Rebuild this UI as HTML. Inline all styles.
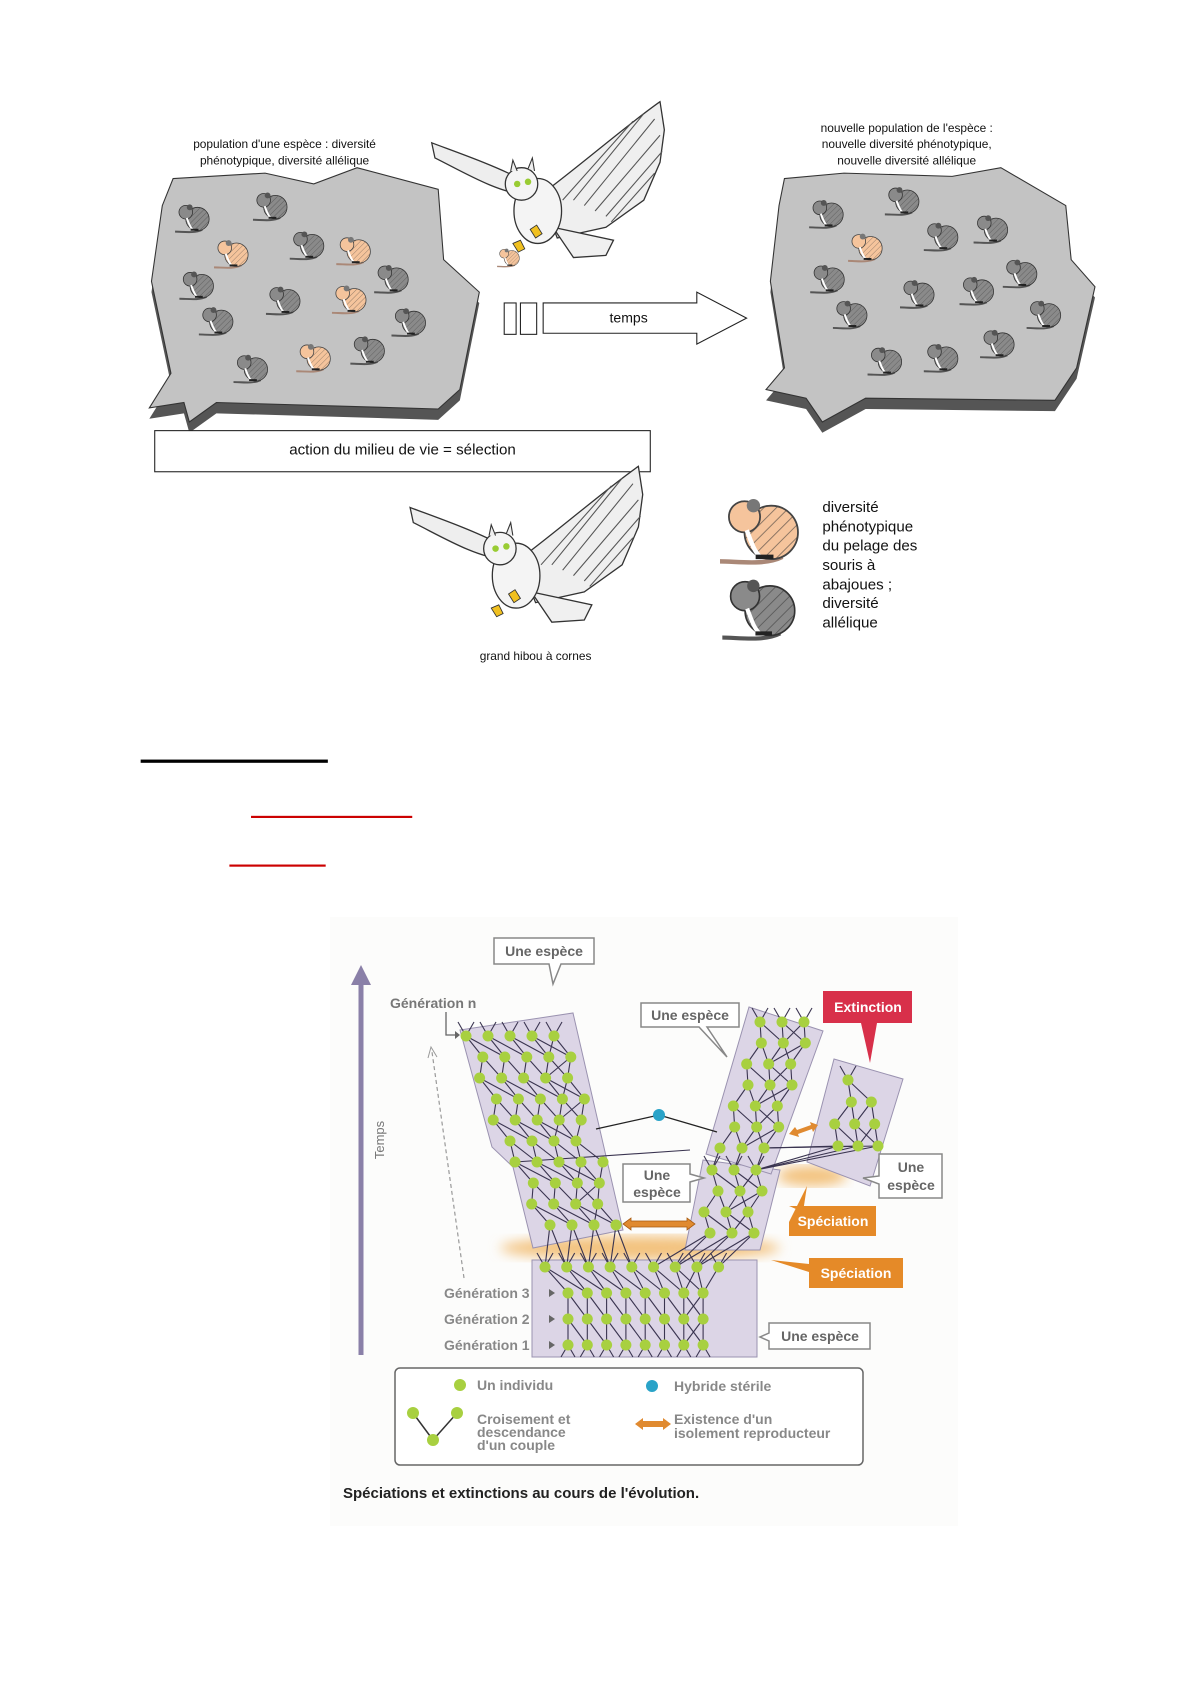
<!DOCTYPE html>
<html><head><meta charset="utf-8"><style>
html,body{margin:0;padding:0;background:#fff;}
svg{display:block;}
text{font-family:"Liberation Sans",sans-serif;}
</style></head><body>
<svg id="s" width="1190" height="1684" viewBox="0 0 1190 1684" xmlns="http://www.w3.org/2000/svg">
<defs>
<pattern id="h" width="4" height="4" patternUnits="userSpaceOnUse" patternTransform="rotate(45)">
<rect width="4" height="4" fill="none"/><line x1="0" y1="0" x2="0" y2="4" stroke="#333" stroke-width="0.8" opacity="0.6"/></pattern>
<symbol id="mg" viewBox="0 0 40 34" overflow="visible">
<path d="M30,29 C22,33 10,31 2,31" stroke="#555" stroke-width="2" fill="none"/>
<ellipse cx="25" cy="18" rx="12" ry="12" fill="#8a8a8a" stroke="#333" stroke-width="0.8"/>
<ellipse cx="25" cy="18" rx="12" ry="12" fill="url(#h)"/>
<circle cx="13" cy="11" r="7" fill="#8a8a8a" stroke="#333" stroke-width="0.8"/>
<circle cx="17" cy="6" r="3" fill="#555"/>
<path d="M14,17 C16,22 17,26 20,29" stroke="#fff" stroke-width="2" fill="none"/>
<path d="M18,29 L26,29" stroke="#222" stroke-width="2"/>
</symbol>
<symbol id="mo" viewBox="0 0 40 34" overflow="visible">
<path d="M30,29 C22,33 10,31 2,31" stroke="#a87" stroke-width="2" fill="none"/>
<ellipse cx="25" cy="18" rx="12" ry="12" fill="#f5c49c" stroke="#444" stroke-width="0.8"/>
<ellipse cx="25" cy="18" rx="12" ry="12" fill="url(#h)"/>
<circle cx="13" cy="11" r="7" fill="#f5c49c" stroke="#444" stroke-width="0.8"/>
<circle cx="17" cy="6" r="3" fill="#777"/>
<path d="M14,17 C16,22 17,26 20,29" stroke="#fff" stroke-width="2" fill="none"/>
<path d="M18,29 L26,29" stroke="#222" stroke-width="2"/>
</symbol>
<g id="owl">
<path d="M399,132 C420,140 455,152 480,165 L486,180 C460,178 430,160 402,146 Z" fill="#eee" stroke="#333" stroke-width="1.2"/>
<path d="M500,180 C540,150 580,115 610,94 L614,120 L610,150 L595,185 L560,210 L515,220 Z" fill="#efefef" stroke="#333" stroke-width="1.2"/>
<g stroke="#555" stroke-width="1" fill="none">
<path d="M540,190 L605,110"/><path d="M550,195 L610,125"/><path d="M560,200 L612,140"/><path d="M565,205 L605,160"/><path d="M530,185 L595,105"/><path d="M520,185 L585,112"/></g>
<path d="M511,210 L567,222 L560,236 L530,238 Z" fill="#f0f0f0" stroke="#333" stroke-width="1.2"/>
<ellipse cx="497" cy="195" rx="22" ry="30" fill="#f4f4f4" stroke="#333" stroke-width="1.2"/>
<circle cx="482" cy="170" r="15" fill="#f4f4f4" stroke="#333" stroke-width="1.2"/>
<path d="M472,158 L474,148 L478,158 M488,156 L492,146 L494,158" stroke="#333" fill="#eee"/>
<circle cx="478" cy="170" r="3" fill="#9c3"/><circle cx="488" cy="168" r="3" fill="#9c3"/>
<path d="M490,212 l6,-4 l5,8 l-6,4 Z M474,225 l7,-3 l4,8 l-6,3 Z" fill="#f0c020" stroke="#333" stroke-width="0.8"/>
</g>
</defs>

<!-- TOP PART in view coords -->
<g transform="scale(1.082)">
<polygon transform="translate(0,10)" fill="#555" points="160,165 245,160 290,170 330,155 405,175 410,240 443,270 425,360 405,378 200,372 175,390 170,372 138,377 158,345 140,260 150,190"/>
<polygon fill="#c3c3c3" stroke="#333" stroke-width="1" points="160,165 245,160 290,170 330,155 405,175 410,240 443,270 425,360 405,378 200,372 175,390 170,372 138,377 158,345 140,260 150,190"/>
<polygon transform="translate(0,10)" fill="#555" points="725,165 780,160 880,163 925,155 985,190 990,240 1012,265 995,340 975,370 800,368 760,390 745,368 708,360 725,340 712,260 720,190"/>
<polygon fill="#c3c3c3" stroke="#333" stroke-width="1" points="725,165 780,160 880,163 925,155 985,190 990,240 1012,265 995,340 975,370 800,368 760,390 745,368 708,360 725,340 712,260 720,190"/>
<g>
<use href="#mg" x="160" y="186" width="36" height="31"/><use href="#mg" x="232" y="175" width="36" height="31"/>
<use href="#mo" x="196" y="219" width="36" height="31"/><use href="#mg" x="266" y="211" width="36" height="31"/>
<use href="#mo" x="309" y="216" width="36" height="31"/><use href="#mg" x="164" y="248" width="36" height="31"/>
<use href="#mg" x="344" y="242" width="36" height="31"/><use href="#mg" x="244" y="262" width="36" height="31"/>
<use href="#mo" x="305" y="261" width="36" height="31"/><use href="#mg" x="182" y="281" width="36" height="31"/>
<use href="#mg" x="360" y="282" width="36" height="31"/><use href="#mg" x="214" y="325" width="36" height="31"/>
<use href="#mo" x="272" y="315" width="36" height="31"/><use href="#mg" x="322" y="308" width="36" height="31"/>
<use href="#mg" x="746" y="182" width="36" height="31"/><use href="#mg" x="816" y="170" width="36" height="31"/>
<use href="#mg" x="852" y="203" width="36" height="31"/><use href="#mg" x="898" y="196" width="36" height="31"/>
<use href="#mo" x="782" y="213" width="36" height="31"/><use href="#mg" x="747" y="242" width="36" height="31"/>
<use href="#mg" x="925" y="237" width="36" height="31"/><use href="#mg" x="830" y="256" width="36" height="31"/>
<use href="#mg" x="885" y="253" width="36" height="31"/><use href="#mg" x="768" y="275" width="36" height="31"/>
<use href="#mg" x="947" y="275" width="36" height="31"/><use href="#mg" x="800" y="318" width="36" height="31"/>
<use href="#mg" x="852" y="315" width="36" height="31"/><use href="#mg" x="904" y="302" width="36" height="31"/>
</g>
<text x="263" y="137" font-size="11" text-anchor="middle" fill="#111">population d'une espèce : diversité</text>
<text x="263" y="152" font-size="11" text-anchor="middle" fill="#111">phénotypique, diversité allélique</text>
<text x="838" y="122" font-size="11" text-anchor="middle" fill="#111">nouvelle population de l'espèce :</text>
<text x="838" y="137" font-size="11" text-anchor="middle" fill="#111">nouvelle diversité phénotypique,</text>
<text x="838" y="152" font-size="11" text-anchor="middle" fill="#111">nouvelle diversité allélique</text>
<use href="#owl"/>
<use href="#mo" x="458" y="228" width="24" height="20"/>
<rect x="466" y="280" width="11" height="29" fill="#fff" stroke="#222"/>
<rect x="481" y="280" width="15" height="29" fill="#fff" stroke="#222"/>
<polygon points="502,280 644,280 644,270 690,294 644,318 644,308 502,308" fill="#fff" stroke="#222"/>
<text x="581" y="298" font-size="13" text-anchor="middle" fill="#111">temps</text>
<rect x="143" y="398" width="458" height="38" fill="#fff" stroke="#222"/>
<text x="372" y="420" font-size="14" text-anchor="middle" fill="#111">action du milieu de vie = sélection</text>
<g transform="translate(-20,337)"><use href="#owl"/></g>
<text x="495" y="610" font-size="11" text-anchor="middle" fill="#111">grand hibou à cornes</text>
<use href="#mo" x="660" y="455" width="85" height="70"/>
<use href="#mg" x="662" y="530" width="80" height="65"/>
<g font-size="14" fill="#111">
<text x="760" y="473">diversité</text><text x="760" y="491">phénotypique</text><text x="760" y="509">du pelage des</text>
<text x="760" y="527">souris à</text><text x="760" y="545">abajoues ;</text><text x="760" y="562">diversité</text><text x="760" y="580">allélique</text></g>
<rect x="130" y="702" width="173" height="3" fill="#000"/>
<rect x="232" y="754" width="149" height="2" fill="#c00"/>
<rect x="212" y="799" width="89" height="2" fill="#c00"/>
</g>

<!-- DIAGRAM in real coords -->
<rect x="330" y="917" width="628" height="609" fill="#fcfcfb"/>
<defs><filter id="bl"><feGaussianBlur stdDeviation="6"/></filter>
<marker id="ah" viewBox="0 0 10 10" refX="5" refY="5" markerWidth="4" markerHeight="4" orient="auto"><path d="M0,0 L10,5 L0,10 Z" fill="#8a80a8"/></marker></defs>
<line x1="361" y1="1355" x2="361" y2="975" stroke="#8a80a8" stroke-width="5" marker-end="url(#ah)"/>
<text transform="translate(384,1140) rotate(-90)" font-size="13" fill="#777" text-anchor="middle">Temps</text>
<line x1="464" y1="1278" x2="432" y2="1052" stroke="#999" stroke-width="1.2" stroke-dasharray="4,3"/>
<path d="M428,1058 L431,1047 L437,1057" fill="none" stroke="#999"/>
<ellipse cx="640" cy="1248" rx="140" ry="12" fill="#f3c27e" filter="url(#bl)"/>
<ellipse cx="812" cy="1176" rx="35" ry="10" fill="#f3c27e" filter="url(#bl)"/>
<g fill="#dcd5e6" stroke="#9a92b0" stroke-width="1">
<polygon points="532,1260 757,1260 757,1357 532,1357"/>
<polygon points="460,1030 573,1013 623,1230 533,1248 513,1167 492,1147"/>
<polygon points="703,1160 780,1170 760,1250 685,1250"/>
<polygon points="749,1007 823,1031 771,1174 706,1154"/>
<polygon points="834,1059 903,1079 870,1186 807,1162"/>
</g>
<g id="lat"></g>
<line x1="596" y1="1129" x2="659" y2="1115" stroke="#222" stroke-width="1.2"/>
<line x1="659" y1="1115" x2="717" y2="1132" stroke="#222" stroke-width="1.2"/>
<circle cx="659" cy="1115" r="6" fill="#2aa3c8"/>
<path d="M623,1224 l8,-6 v3 h56 v-3 l8,6 l-8,6 v-3 h-56 v3 Z" fill="#e08a30" stroke="#a85a10" stroke-width="0.8"/>
<path d="M789,1134 l6,-7 l2,3 l14,-5 l-1,-3 l8,3 l-5,7 l-1,-3 l-14,5 l1,3 Z" fill="#e08a30"/>
<g font-size="14" font-weight="bold" fill="#777">
<path d="M494,938 h100 v26 h-33 l-8,20 l-4,-20 h-55 Z" fill="#fff" stroke="#888" stroke-width="1.5"/>
<text x="544" y="956" text-anchor="middle" fill="#666">Une espèce</text>
<path d="M641,1003 h98 v24 h-32 l20,30 l-28,-30 h-58 Z" fill="#fff" stroke="#888" stroke-width="1.5"/>
<text x="690" y="1020" text-anchor="middle" fill="#666">Une espèce</text>
<path d="M623,1164 h67 v10 l14,4 l-14,4 v20 h-67 Z" fill="#fff" stroke="#888" stroke-width="1.5"/>
<text x="657" y="1180" text-anchor="middle" fill="#666">Une</text><text x="657" y="1197" text-anchor="middle" fill="#666">espèce</text>
<path d="M879,1154 h63 v44 h-63 v-14 l-16,-6 l16,-2 Z" fill="#fff" stroke="#888" stroke-width="1.5"/>
<text x="911" y="1172" text-anchor="middle" fill="#666">Une</text><text x="911" y="1190" text-anchor="middle" fill="#666">espèce</text>
<path d="M769,1323 h101 v26 h-101 v-8 l-9,-4 l9,-4 Z" fill="#fff" stroke="#888" stroke-width="1.5"/>
<text x="820" y="1341" text-anchor="middle" fill="#666">Une espèce</text>
<path d="M823,991 h89 v32 h-35 l-7,40 l-9,-40 h-38 Z" fill="#d8304a"/>
<text x="868" y="1012" text-anchor="middle" fill="#fff">Extinction</text>
<path d="M789,1206 h87 v30 h-87 v-14 l18,-36 l-4,26 Z" fill="#e58a28"/>
<text x="833" y="1226" text-anchor="middle" fill="#fff">Spéciation</text>
<path d="M809,1258 h94 v30 h-94 v-16 l-38,-12 l38,4 Z" fill="#e58a28"/>
<text x="856" y="1278" text-anchor="middle" fill="#fff">Spéciation</text>
<text x="390" y="1008" fill="#777">Génération n</text>
<text x="444" y="1298" fill="#888">Génération 3</text>
<text x="444" y="1324" fill="#888">Génération 2</text>
<text x="444" y="1350" fill="#888">Génération 1</text>
</g>
<path d="M446,1012 V1035 H456" fill="none" stroke="#666" stroke-width="1.3"/><path d="M455,1031 l5,4 l-5,4 Z" fill="#666"/>
<path d="M549,1289 l6,4 l-6,4 Z M549,1315 l6,4 l-6,4 Z M549,1341 l6,4 l-6,4 Z" fill="#666"/>
<rect x="395" y="1368" width="468" height="97" rx="5" fill="#fff" stroke="#666" stroke-width="1.5"/>
<circle cx="460" cy="1385" r="6" fill="#a8d040"/>
<line x1="413" y1="1413" x2="433" y2="1440" stroke="#333" stroke-width="1.5"/><line x1="433" y1="1440" x2="457" y2="1413" stroke="#333" stroke-width="1.5"/>
<circle cx="413" cy="1413" r="6" fill="#a8d040"/><circle cx="457" cy="1413" r="6" fill="#a8d040"/><circle cx="433" cy="1440" r="6" fill="#a8d040"/>
<circle cx="652" cy="1386" r="6" fill="#2aa3c8"/>
<path d="M635,1424 l8,-6 v3 h20 v-3 l8,6 l-8,6 v-3 h-20 v3 Z" fill="#e08a30"/>
<g font-size="14" font-weight="bold" fill="#888">
<text x="477" y="1390">Un individu</text>
<text x="477" y="1424">Croisement et</text><text x="477" y="1437">descendance</text><text x="477" y="1450">d'un couple</text>
<text x="674" y="1391">Hybride stérile</text>
<text x="674" y="1424">Existence d'un</text><text x="674" y="1438">isolement reproducteur</text>
</g>
<text x="343" y="1498" font-size="15" font-weight="bold" fill="#222">Spéciations et extinctions au cours de l'évolution.</text>
</svg>
<script>
(function(){
var g=document.getElementById('lat'),NS='http://www.w3.org/2000/svg';
var rows=[];
function lerp(a,b,t){return a+(b-a)*t;}
// left branch
for(var i=0;i<10;i++){var y=1036+i*21;var t=i/9;
 var xl=i<6?lerp(466,500,i/5):lerp(515,540,(i-6)/3);var xr=lerp(570,620,t);
 rows.push({y:y,xl:xl+(i%2?10:0),xr:xr});}
var left=[];rows.forEach(function(r){var a=[];for(var x=r.xl;x<=r.xr;x+=22)a.push([x,r.y]);left.push(a);});
// right upper
var ru=[];for(var i=0;i<7;i++){var y=1022+i*21;var a=[];var x0=lerp(760,720,i/6)+(i%2?8:0);for(var k=0;k<3;k++)a.push([x0+k*22,y]);ru.push(a);}
var rl=[];for(var i=0;i<4;i++){var y=1170+i*21;var a=[];var x0=lerp(712,700,i/3)+(i%2?10:0);for(var k=0;k<3;k++)a.push([x0+k*22,y]);rl.push(a);}
var ex=[];for(var i=0;i<4;i++){var y=1080+i*22;var a=[];var x0=lerp(848,828,i/3)+(i%2?10:0);for(var k=0;k<(i==0?1:2+(i>1?1:0));k++)a.push([x0+k*20,y]);ex.push(a);}
var bot=[];var a=[];for(var x=545;x<=740;x+=21.7)a.push([x,1267]);bot.push(a);
[1293,1319,1345].forEach(function(y){var b=[];for(var x=568;x<=722;x+=19.3)b.push([x,y]);bot.push(b);});
function ln(a,b){var l=document.createElementNS(NS,'line');l.setAttribute('x1',a[0]);l.setAttribute('y1',a[1]);l.setAttribute('x2',b[0]);l.setAttribute('y2',b[1]);l.setAttribute('stroke','#3a3450');l.setAttribute('stroke-width','1.1');g.appendChild(l);}
function links(set){for(var i=0;i<set.length-1;i++){var A=set[i],B=set[i+1];A.forEach(function(p,j){var b1=B[j],b2=B[j+1]||B[j-1];if(b1)ln(p,b1);if(b2)ln(p,b2);});}
 set[0].forEach(function(p){ln(p,[p[0]-8,p[1]-14]);ln(p,[p[0]+8,p[1]-14]);});}
function dots(set){set.forEach(function(r){r.forEach(function(p){var c=document.createElementNS(NS,'circle');c.setAttribute('cx',p[0]);c.setAttribute('cy',p[1]);c.setAttribute('r',5.5);c.setAttribute('fill','#a8d040');g.appendChild(c);});});}
var L=left.slice().reverse();
links(left);links(ru);links(rl);links(ex);links(bot);
bot[bot.length-1].forEach(function(p){ln(p,[p[0]-7,p[1]+12]);ln(p,[p[0]+7,p[1]+12]);});
// connections between bottom block and branches
var lastL=left[left.length-1];lastL.forEach(function(p,j){ln(p,bot[0][j]||bot[0][0]);ln(p,bot[0][j+1]||bot[0][0]);});
rl[rl.length-1].forEach(function(p,j){ln(p,bot[0][6+j]||bot[0][8]);ln(p,bot[0][5+j]);});
ru[ru.length-1].forEach(function(p,j){ln(p,rl[0][j]);});
ex[ex.length-1].forEach(function(p){ln(p,ru[6][2]);ln(p,rl[0][2]);});
ln(left[6][0],[690,1150]);
[left,ru,rl,ex,bot].forEach(dots);
})();
</script>
</body></html>
